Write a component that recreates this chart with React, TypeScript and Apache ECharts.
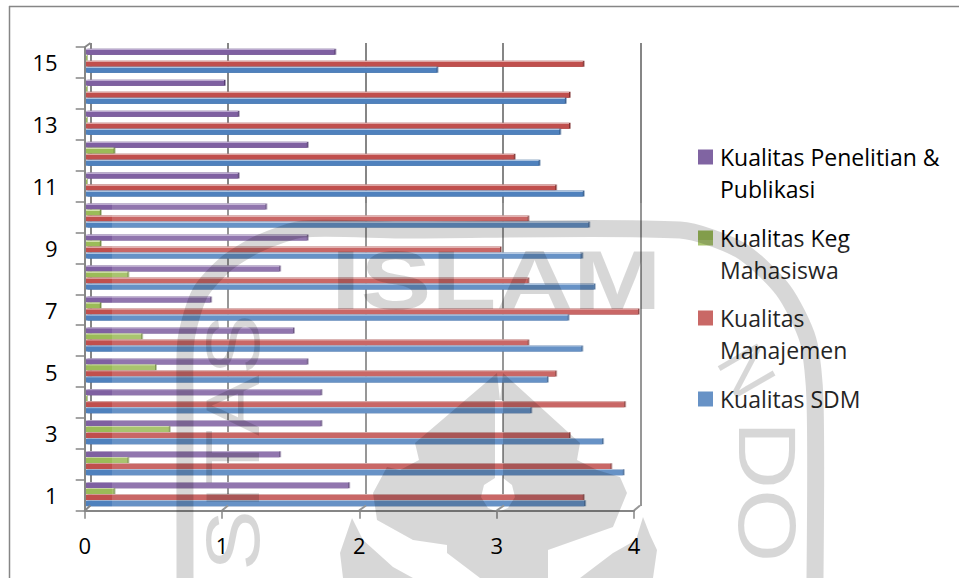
import React, { useEffect, useRef } from "react";
import * as echarts from "echarts";

const categories = ["1","2","3","4","5","6","7","8","9","10","11","12","13","14","15"];
const tickValues = [0, 1, 2, 3, 4];

const kualitasSdm = [3.61, 3.89, 3.74, 3.22, 3.34, 3.59, 3.49, 3.68, 3.59, 3.64, 3.6, 3.28, 3.43, 3.47, 2.54];
const kualitasManajemen = [3.6, 3.8, 3.5, 3.9, 3.4, 3.2, 4.0, 3.2, 3.0, 3.2, 3.4, 3.1, 3.5, 3.5, 3.6];
const kualitasKeg = [0.2, 0.3, 0.6, 0, 0.5, 0.4, 0.1, 0.3, 0.1, 0.1, 0, 0.2, 0, 0, 0];
const kualitasPenelitian = [1.9, 1.4, 1.7, 1.7, 1.6, 1.5, 0.9, 1.4, 1.6, 1.3, 1.1, 1.6, 1.1, 1.0, 1.8];

// Listed top bar first: within a group ECharts stacks the series downwards.
const seriesNames = ["Kualitas Penelitian & Publikasi", "Kualitas Keg Mahasiswa", "Kualitas Manajemen", "Kualitas SDM"];
const seriesValues = [kualitasPenelitian, kualitasKeg, kualitasManajemen, kualitasSdm];
const seriesColors = ["#7f60a1", "#9bbb59", "#c0504d", "#4f81bd"];
const seriesEdges = ["#bcaad0", "#d3e2ab", "#dfa5a3", "#a9c2e0"];
const seriesCaps = ["#553c72", "#6b8438", "#7f2f2d", "#2f5688"];

const legendLabels = ["Kualitas Penelitian &\nPublikasi", "Kualitas Keg\nMahasiswa", "Kualitas\nManajemen", "Kualitas SDM"];
const legendSwatches = ["#8064a2", "#9bbb59", "#c0504d", "#4f81bd"];
const legendRows = [157, 238, 318, 399];

const AXIS_GRAY = "#868686";
const SEAL_GRAY = "rgba(0,0,0,0.155)";
const FONT = '"Open Sans", sans-serif';

// Corner of the 3D box: small diagonals joining the floor ticks to the back wall.
const floorDiagonals = [[85, 90.4], [222, 228], [359, 366], [496.7, 504], [634, 640]];

function frameGraphics() {
  const line = (x1: number, y1: number, x2: number, y2: number, w = 2) => ({
    type: "line",
    silent: true,
    z: 3,
    shape: { x1, y1, x2, y2 },
    style: { stroke: AXIS_GRAY, lineWidth: w },
  });
  return [
    line(9, 6.5, 959, 6.5, 1.5),
    line(9.5, 6, 9.5, 578, 1.5),
    line(85, 47, 90.5, 43),
    ...floorDiagonals.map(([a, b]) => line(a, 510.5, b, 505.5)),
  ];
}

function legendGraphics() {
  const out: any[] = [];
  legendLabels.forEach((label, i) => {
    out.push({
      type: "rect",
      silent: true,
      z: 50,
      shape: { x: 698, y: legendRows[i] - 7.5, width: 15, height: 15 },
      style: { fill: legendSwatches[i] },
    });
    out.push({
      type: "text",
      silent: true,
      z: 50,
      x: 720,
      y: legendRows[i] - 16.5,
      style: {
        text: label,
        font: `23px ${FONT}`,
        lineHeight: 32.5,
        fill: "#000",
        textAlign: "left",
        textVerticalAlign: "top",
      },
    });
  });
  return out;
}

// Pale band laid across the lower part of the sheet.
function fadeGraphic() {
  return {
    type: "polygon",
    silent: true,
    z: 90,
    shape: { points: [[112, 203], [645, 203], [645, 240], [959, 240], [959, 510], [112, 510]] },
    style: { fill: "rgba(255,255,255,0.14)" },
  };
}

// University seal printed over the sheet.
function sealGraphics() {
  const glyph = (text: string, x: number, y: number, font: string, rotation: number, scaleX: number) => ({
    type: "text",
    silent: true,
    z: 100,
    x,
    y,
    rotation,
    scaleX,
    style: {
      text,
      font: `${font} "Liberation Sans", sans-serif`,
      fill: SEAL_GRAY,
      textAlign: "left",
      textVerticalAlign: "middle",
    },
  });
  const ring = [
    [185, 578], [185, 400], [186, 340], [200, 293], [227, 263], [260, 243], [303, 229],
    [400, 230], [680, 230], [740, 250], [783, 290], [808, 340], [815, 400], [815, 578],
  ];
  const dome = [
    [497, 373], [415, 443], [419, 460], [400, 470], [387, 467], [373, 493], [377, 520],
    [413, 540], [447, 545], [447, 553], [480, 578], [548, 578], [548, 550], [613, 527],
    [627, 493], [620, 477], [597, 470], [577, 460], [580, 443], [503, 373],
    // keyhole opening, reached along a zero-width cut
    [500, 400], [503, 400], [503, 478], [512, 485], [515, 497], [508, 508], [498, 512],
    [488, 508], [481, 497], [484, 485], [495, 478], [495, 400], [500, 400],
  ];
  const leftCrescent = [[352, 518], [363, 540], [393, 567], [413, 578], [343, 578], [340, 553]];
  const rightCrescent = [[643, 517], [650, 535], [657, 550], [653, 578], [580, 578], [613, 553], [636, 540]];
  const fill = (points: number[][]) => ({
    type: "polygon",
    silent: true,
    z: 100,
    shape: { points },
    style: { fill: SEAL_GRAY },
  });
  return [
    {
      type: "polyline",
      silent: true,
      z: 100,
      shape: { points: ring, smooth: 0.25 },
      style: { stroke: SEAL_GRAY, fill: "none", lineWidth: 17, lineJoin: "round" },
    },
    fill(dome),
    fill(leftCrescent),
    fill(rightCrescent),
    glyph("ISLAM", 331, 280, "bold 83px", 0, 1.28),
    glyph("SITAS", 233, 571, "76px", Math.PI / 2, 1.2),
    glyph("DO", 767, 421, "82px", -Math.PI / 2, 1.15),
    glyph("N", 735, 350, "66px", -Math.PI / 3, 1),
  ];
}

export default function App() {
  const ref = useRef<HTMLDivElement>(null);

  useEffect(() => {
    const chart = echarts.init(ref.current!, undefined, { renderer: "svg" });
    const hiddenY = (gridIndex: number) => ({
      type: "category",
      gridIndex,
      data: categories,
      axisLine: { show: false },
      axisTick: { show: false },
      axisLabel: { show: false },
    });
    chart.setOption({
      animation: false,
      backgroundColor: "#fff",
      grid: [
        { left: 84.7, top: 47, width: 549.3, height: 463.7 },
        { left: 90.3, top: 43, width: 550, height: 463 },
        { left: 86, top: 45.3, width: 552, height: 464.4 },
      ],
      xAxis: [
        {
          type: "value",
          gridIndex: 0,
          min: tickValues[0],
          max: tickValues[tickValues.length - 1],
          interval: 1,
          splitLine: { show: false },
          axisLine: { show: true, lineStyle: { color: AXIS_GRAY, width: 2 } },
          axisTick: { show: true, length: 8, lineStyle: { color: AXIS_GRAY, width: 1.5 } },
          axisLabel: { color: "#000", fontSize: 22, fontFamily: "Open Sans", margin: 23 },
        },
        {
          type: "value",
          gridIndex: 1,
          min: 0,
          max: 4,
          interval: 1,
          axisLine: { show: false },
          axisTick: { show: false },
          axisLabel: { show: false },
          splitLine: { show: true, lineStyle: { color: AXIS_GRAY, width: 2 } },
        },
        {
          type: "value",
          gridIndex: 2,
          min: 0,
          max: 4,
          interval: 1,
          axisLine: { show: false },
          axisTick: { show: false },
          axisLabel: { show: false },
          splitLine: { show: false },
        },
      ],
      yAxis: [
        {
          type: "category",
          gridIndex: 0,
          data: categories,
          axisLine: { show: true, lineStyle: { color: AXIS_GRAY, width: 2 } },
          axisTick: { show: true, length: 9, interval: 0, lineStyle: { color: AXIS_GRAY, width: 1.5 } },
          axisLabel: { color: "#000", fontSize: 22, fontFamily: "Open Sans", interval: 1, margin: 27 },
        },
        hiddenY(1),
        hiddenY(2),
      ],
      series: seriesNames.map((name, i) => ({
        type: "bar",
        name,
        data: seriesValues[i],
        xAxisIndex: 2,
        yAxisIndex: 2,
        barWidth: 6,
        barGap: 0,
        barMinHeight: 1,
        itemStyle: {
          color: new echarts.graphic.LinearGradient(0, 0, 0, 1, [
            { offset: 0, color: seriesEdges[i] },
            { offset: 0.16, color: seriesEdges[i] },
            { offset: 0.2, color: seriesColors[i] },
            { offset: 1, color: seriesColors[i] },
          ]),
          shadowColor: seriesCaps[i],
          shadowOffsetX: 1.5,
          shadowOffsetY: 0,
          shadowBlur: 0,
        },
      })),
      graphic: {
        elements: [...frameGraphics(), ...legendGraphics(), fadeGraphic(), ...sealGraphics()],
      },
    });
    return () => chart.dispose();
  }, []);

  return (
    <div
      ref={ref}
      style={{ position: "absolute", left: 0, top: 0, width: 959, height: 578, background: "#fff" }}
    />
  );
}
